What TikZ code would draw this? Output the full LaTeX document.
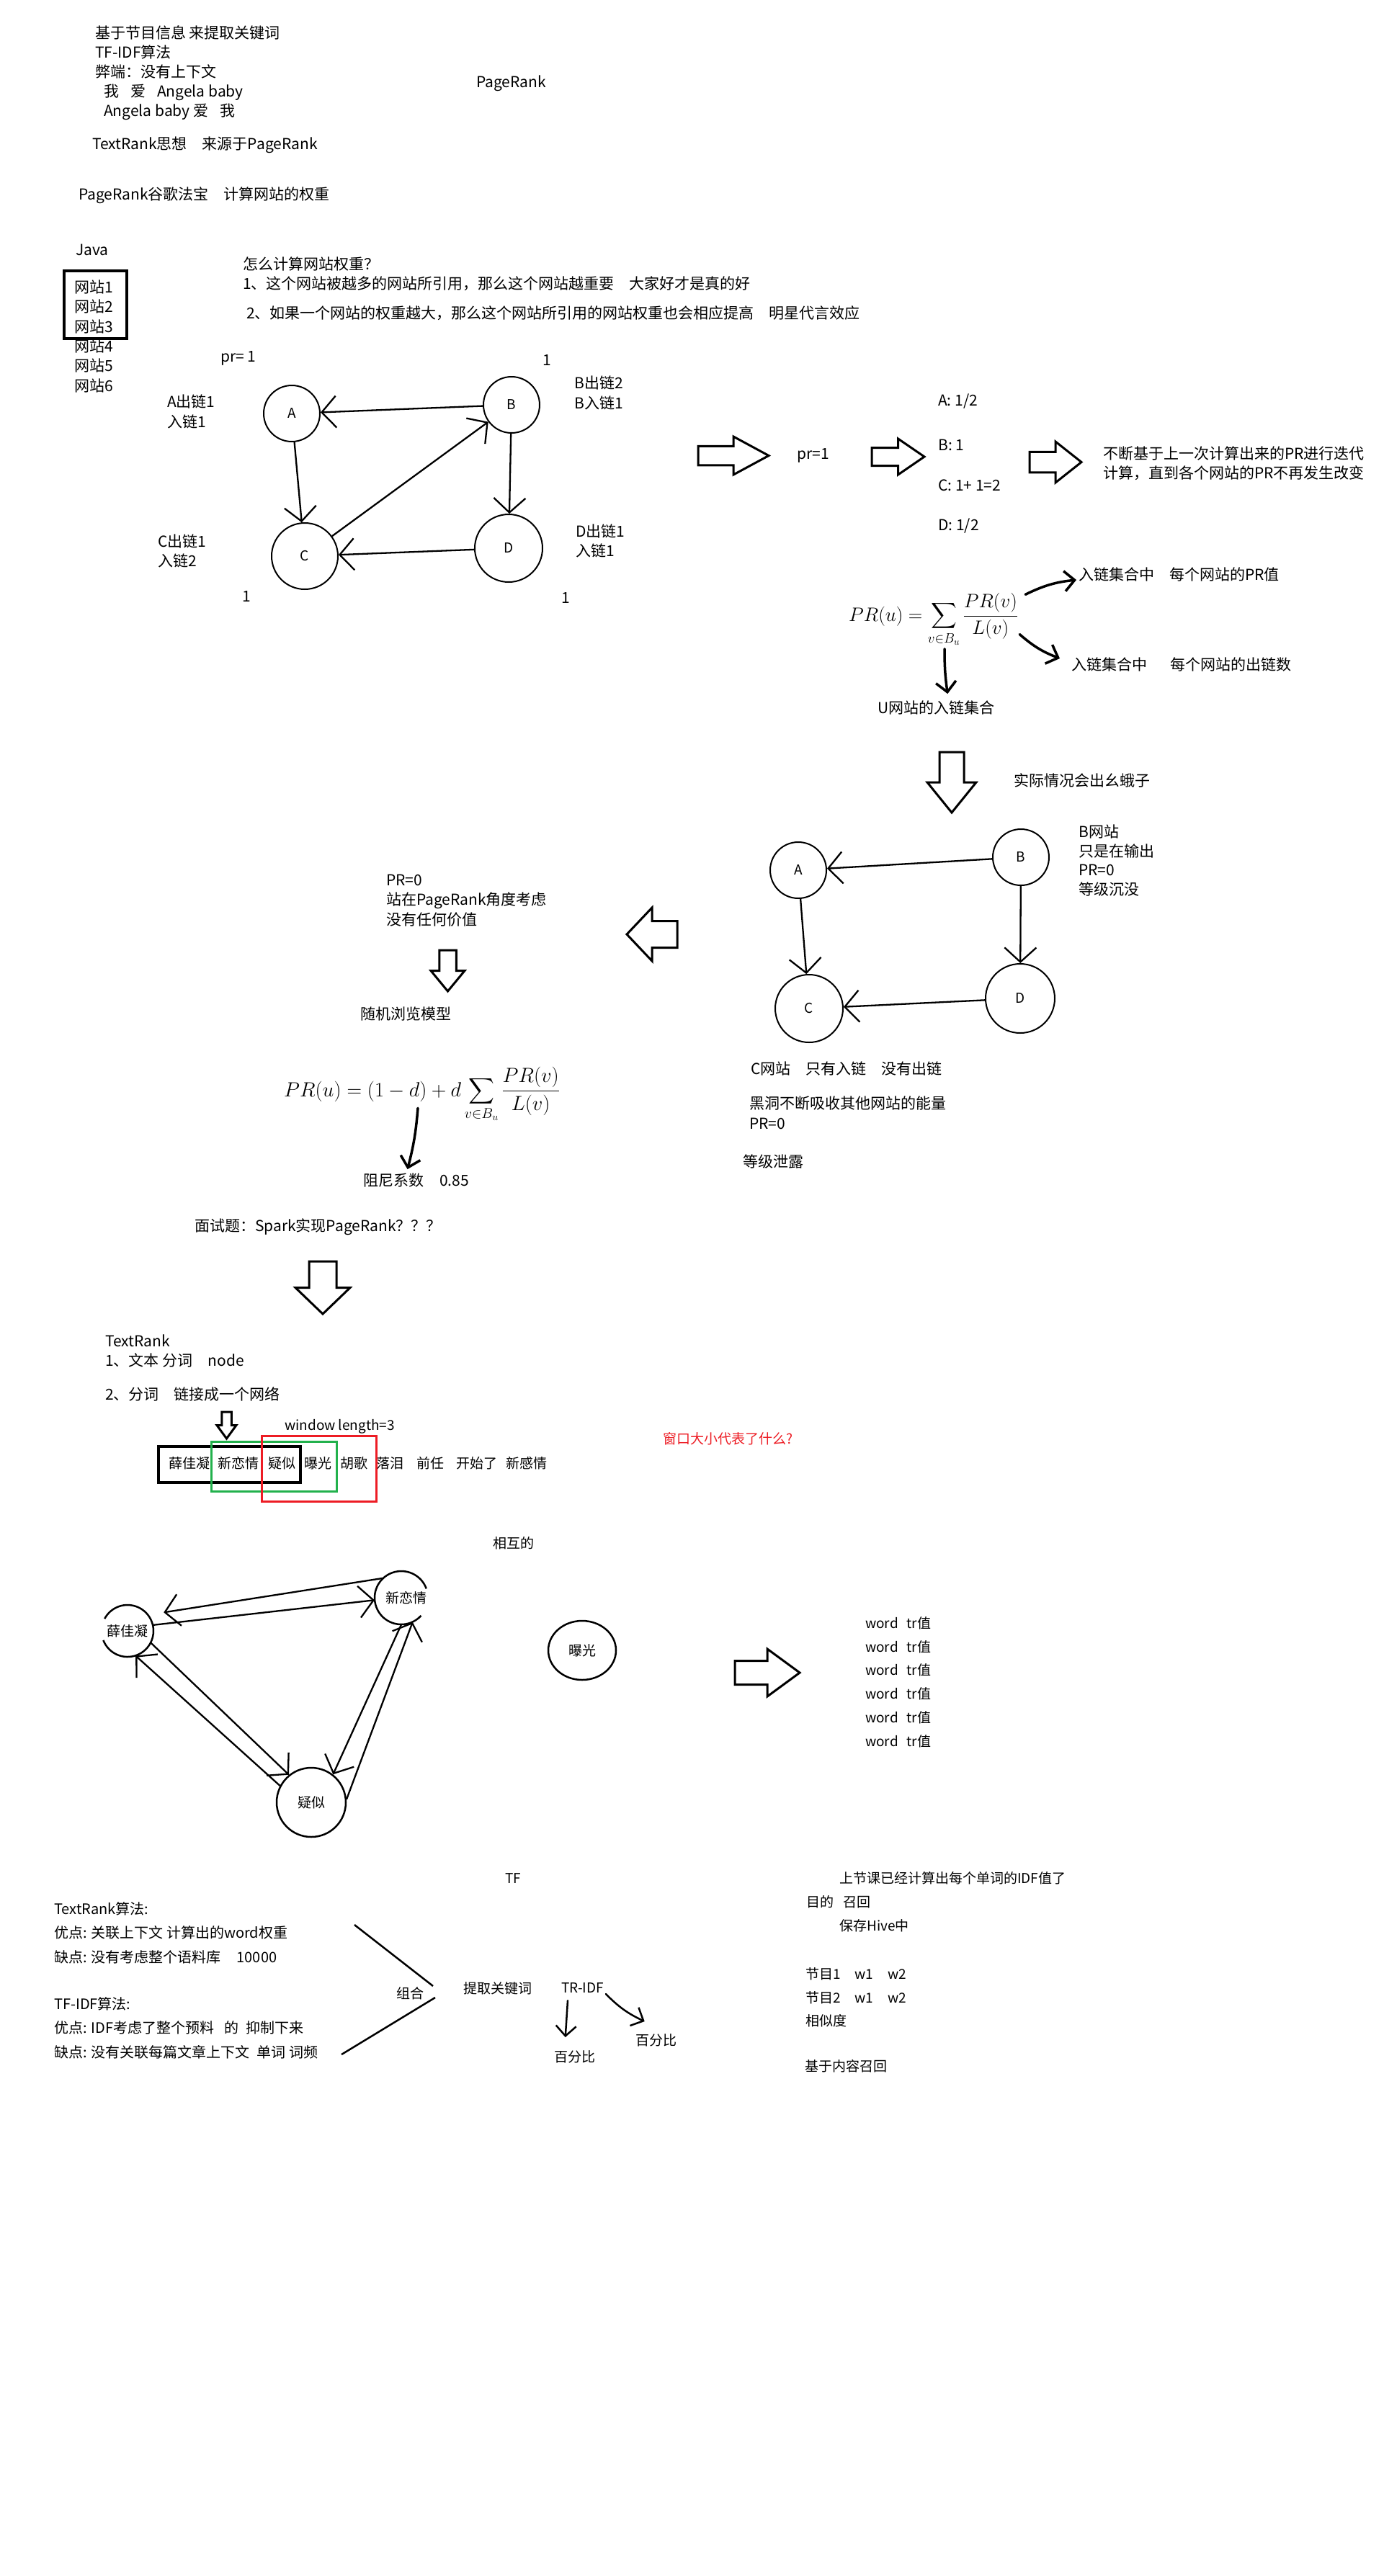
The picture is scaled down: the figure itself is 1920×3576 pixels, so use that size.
\RequirePackage{fix-cm}
\documentclass[tikz,border=0pt]{standalone}
\usepackage{fontspec}
\setmainfont{Noto Sans CJK SC}
\usepackage{amsmath}
\usetikzlibrary{arrows.meta,positioning,calc,shapes.geometric}
\definecolor{PaintRed}{HTML}{ED1C24}
\definecolor{PaintGreen}{HTML}{22B14C}
\tikzset{
  note/.style={font=\fontsize{21}{27}\selectfont,anchor=west,align=left,inner sep=0pt},
  msg/.style={font=\fontsize{19}{33}\selectfont,anchor=west,align=left,inner sep=0pt},
  site/.style={circle,draw,line width=2pt,minimum size=78pt,inner sep=0pt,font=\fontsize{19}{19}\selectfont},
  link/.style={-{Straight Barb[length=20pt,width=44pt]},line width=2.3pt},
  hand/.style={-{Straight Barb[length=14pt,width=28pt]},line width=3.5pt,line cap=round},
  formula/.style={anchor=base west,inner sep=0pt,font=\fontsize{27}{32}\selectfont},
  fat/.pic={\draw[line width=3pt,fill=white] (0,-.25) -- (.5,-.25) -- (.5,-.5) -- (1,0) -- (.5,.5) -- (.5,.25) -- (0,.25) -- cycle;}
}
\begin{document}
\begin{tikzpicture}[x=1pt,y=1pt]
\fill[white] (0,0) rectangle (1920,-3576);
\useasboundingbox (0,0) rectangle (1920,-3576);

% --- notes at the top
\node[note,anchor=north west] (intro) at (132,-35.5) {基于节目信息 来提取关键词\\TF-IDF算法\\弊端：没有上下文\\\hspace{12pt}我\hspace{16pt}爱\hspace{16pt}Angela baby\\\hspace{12pt}Angela baby 爱\hspace{16pt}我};
\node[note] (prTitle) at (661,-116) {PageRank};
\node[note] (trIdea) at (128,-201) {TextRank思想\quad 来源于PageRank};
\node[note] (prBao) at (109,-271) {PageRank谷歌法宝\quad 计算网站的权重};
\node[note] (java) at (105,-347) {Java};
\node[note,anchor=north west,font=\fontsize{21}{27.4}\selectfont] (sites) at (103,-388.5) {网站1\\网站2\\网站3\\网站4\\网站5\\网站6};
\draw[line width=4pt] (89,-376) rectangle (176,-470);
\node[note] (q0) at (337,-367) {怎么计算网站权重？};
\node[note] (q1) at (337,-394) {1、这个网站被越多的网站所引用，那么这个网站越重要\quad 大家好才是真的好};
\node[note] (q2) at (342,-435) {2、如果一个网站的权重越大，那么这个网站所引用的网站权重也会相应提高\quad 明星代言效应};

% --- first link graph
\node[note] (prA) at (306,-497) {pr= 1};
\node[note] (prB) at (753,-500) {1};
\node[note] (prC) at (336,-828) {1};
\node[note] (prD) at (779,-830) {1};
\node[site] (A) at (405,-574) {A};
\node[site] (B) at (710,-562) {B};
\node[site,minimum size=92pt] (C) at (423,-772) {C};
\node[site,minimum size=94pt] (D) at (706,-761) {D};
\draw[link] (B) -- (A);
\draw[link] (A) -- (C);
\draw[link] (C) -- (B);
\draw[link] (B) -- (D);
\draw[link] (D) -- (C);
\node[note,anchor=north west,font=\fontsize{21}{28}\selectfont] (aInfo) at (232,-547.5) {A出链1\\入链1};
\node[note,anchor=north west,font=\fontsize{21}{28}\selectfont] (bInfo) at (797,-521.5) {B出链2\\B入链1};
\node[note,anchor=north west] (cInfo) at (219,-741.5) {C出链1\\入链2};
\node[note,anchor=north west] (dInfo) at (799,-727.5) {D出链1\\入链1};

% --- iteration
\pic[xscale=98,yscale=53] at (969,-632.5) {fat};
\node[note] (prOne) at (1106,-632) {pr=1};
\pic[xscale=73,yscale=50] at (1210,-634) {fat};
\node[note] (itA) at (1302,-557) {A: 1/2};
\node[note] (itB) at (1302,-618) {B: 1};
\node[note] (itC) at (1302,-674) {C: 1+ 1=2};
\node[note] (itD) at (1302,-730) {D: 1/2};
\pic[xscale=72,yscale=57] at (1429,-641.5) {fat};
\node[note,anchor=north west,font=\fontsize{21}{27}\selectfont] (iterate) at (1531,-619.5) {不断基于上一次计算出来的PR进行迭代\\计算，直到各个网站的PR不再发生改变};

% --- simple formula
\node[formula] (fm1) at (1178,-862) {$\displaystyle PR(u)=\sum_{v\in B_u}\frac{PR(v)}{L(v)}$};
\node[note] (inPR) at (1497,-797) {入链集合中\quad 每个网站的PR值};
\node[note] (outL) at (1487,-922) {入链集合中\hspace{32pt}每个网站的出链数};
\node[note] (uSet) at (1218,-982) {U网站的入链集合};
\draw[hand] ([xshift=10pt,yshift=-2pt]fm1.north east) to[bend left=10] ([xshift=-3pt,yshift=-8pt]inPR.west);
\draw[hand] ([shift={(2pt,-20pt)}]fm1.east) to[bend right=10] ([xshift=-16pt,yshift=8pt]outL.west);
\draw[hand] ([xshift=133pt,yshift=-3pt]fm1.south west) to[bend right=4] ([xshift=16pt,yshift=9pt]uSet.north);

% --- what goes wrong
\pic[rotate=-90,xscale=84,yscale=68] at (1321,-1044) {fat};
\node[note] (trouble) at (1407,-1083) {实际情况会出幺蛾子};
\node[site] (sA) at (1108,-1208) {A};
\node[site] (sB) at (1417,-1190) {B};
\node[site,minimum size=94pt] (sC) at (1123,-1400) {C};
\node[site,minimum size=96pt] (sD) at (1416,-1386) {D};
\draw[link] (sB) -- (sA);
\draw[link] (sA) -- (sC);
\draw[link] (sB) -- (sD);
\draw[link] (sD) -- (sC);
\node[note,anchor=north west,font=\fontsize{21}{26.7}\selectfont] (sink) at (1497,-1144.5) {B网站\\只是在输出\\PR=0\\等级沉没};
\node[note] (cOnly) at (1042,-1484) {C网站\quad 只有入链\quad 没有出链};
\node[note,anchor=north west,font=\fontsize{21}{28}\selectfont] (hole) at (1040,-1521.5) {黑洞不断吸收其他网站的能量\\PR=0};
\node[note] (leak) at (1031,-1612) {等级泄露};

% --- random surfer
\pic[rotate=180,xscale=70,yscale=74] at (940,-1297) {fat};
\node[note,anchor=north west,font=\fontsize{21}{27.5}\selectfont] (zero) at (536,-1213.5) {PR=0\\站在PageRank角度考虑\\没有任何价值};
\pic[rotate=-90,xscale=57,yscale=47] at (621.5,-1319) {fat};
\node[note] (surf) at (500,-1408) {随机浏览模型};
\node[formula,font=\fontsize{28.5}{34}\selectfont] (fm2) at (394,-1522) {$\displaystyle PR(u)=(1-d)+d\sum_{v\in B_u}\frac{PR(v)}{L(v)}$};
\node[note] (damp) at (504,-1639) {阻尼系数\hspace{22pt}0.85};
\draw[hand] ([shift={(186pt,20pt)}]fm2.south west) to[bend left=5] ([xshift=-12pt,yshift=6pt]damp.north);
\node[note] (ask) at (270,-1703) {面试题：Spark实现PageRank？？？};
\pic[rotate=-90,xscale=73,yscale=76] at (448,-1751) {fat};

% --- TextRank
\node[note,anchor=north west,font=\fontsize{21}{27}\selectfont] (tr) at (146,-1852.5) {TextRank\\1、文本 分词\quad node};
\node[note] (tr2) at (146,-1935) {2、分词\quad 链接成一个网络};
\pic[rotate=-90,xscale=37,yscale=27] at (314.5,-1960) {fat};
\node[msg] (win) at (395,-1980) {window length=3};
\node[msg,text=PaintRed] (why) at (920,-1997) {窗口大小代表了什么?};
\node[msg] (w1) at (234,-2031) {薛佳凝};
\node[msg] (w2) at (302,-2031) {新恋情};
\node[msg] (w3) at (372,-2031) {疑似};
\node[msg] (w4) at (422,-2031) {曝光};
\node[msg] (w5) at (472,-2031) {胡歌};
\node[msg] (w6) at (522,-2031) {落泪};
\node[msg] (w7) at (578,-2031) {前任};
\node[msg] (w8) at (633,-2031) {开始了};
\node[msg] (w9) at (702,-2031) {新感情};
\draw[line width=4pt] (220,-2008) rectangle (417,-2058);
\draw[line width=3pt,PaintGreen] (293,-2001) rectangle (467,-2070);
\draw[line width=3pt,PaintRed] (363,-1993) rectangle (522,-2084);

% --- word graph
\node[msg] (mutual) at (684,-2142) {相互的};
\node[circle,minimum size=72pt,inner sep=0pt,font=\fontsize{19}{19}\selectfont] (xue) at (177,-2264) {薛佳凝};
\node[circle,minimum size=74pt,inner sep=0pt,font=\fontsize{19}{19}\selectfont] (xin) at (557,-2218) {\hspace*{14pt}新恋情};
\draw[line width=2.5pt] ([shift={(201:36pt)}]xue.center) arc[start angle=201,end angle=512,radius=36pt];
\draw[line width=2.5pt] ([shift={(20:37pt)}]xin.center) arc[start angle=20,end angle=318,radius=37pt];
\node[site,line width=2.5pt,minimum size=96pt] (yi) at (432,-2502) {疑似};
\node[site,ellipse,line width=2.5pt,minimum width=94pt,minimum height=82pt] (bao) at (808,-2291) {曝光};
\draw[link,shorten >=22pt] (xin.133) -- (xue.38);
\draw[link] (xue.13) -- (xin.185);
\draw[link] (xue.-27) -- (yi.129);
\draw[link] (yi.152) -- (xue.-72);
\draw[link] (xin.-90) -- (yi.52);
\draw[link] (yi.5) -- (xin.-65);
\pic[xscale=90,yscale=66] at (1020,-2322) {fat};
\foreach \i in {0,...,5}
  \node[msg] (tr\i) at (1201,-2253-32.8*\i) {word\hspace{12pt}tr值};

% --- comparison
\node[msg] (tf) at (701,-2608) {TF};
\node[msg,anchor=north west,font=\fontsize{20}{33.5}\selectfont] (trAlg) at (75,-2640) {TextRank算法:\\优点: 关联上下文 计算出的word权重\\缺点: 没有考虑整个语料库\hspace{22pt}10000};
\node[msg,anchor=north west,font=\fontsize{20}{33.5}\selectfont] (tfAlg) at (75,-2772) {TF-IDF算法:\\优点: IDF考虑了整个预料\hspace{14pt}的\hspace{10pt}抑制下来\\缺点: 没有关联每篇文章上下文\hspace{10pt}单词 词频};
\draw[line width=2.5pt] (492,-2672) -- (601,-2757);
\draw[line width=2.5pt] (604,-2773) -- (474,-2852);
\node[msg] (mix) at (550,-2767) {组合};
\node[msg] (extract) at (643,-2760) {提取关键词};
\node[msg] (tridf) at (779,-2760) {TR-IDF};
\node[msg] (pct1) at (769,-2855) {百分比};
\node[msg] (pct2) at (882,-2832) {百分比};
\draw[hand,line width=2.5pt] ([shift={(9pt,-10pt)}]tridf.south west) -- ([shift={(-13pt,18pt)}]pct1.north);
\draw[hand,line width=2.5pt] ([shift={(3pt,-8pt)}]tridf.east) to[bend right=10] ([shift={(-16pt,17pt)}]pct2.north);

% --- recall notes
\node[msg] (idf) at (1165,-2607) {上节课已经计算出每个单词的IDF值了};
\node[msg] (aim) at (1119,-2640) {目的\hspace{13pt}召回};
\node[msg] (hive) at (1165,-2673) {保存Hive中};
\node[msg] (show1) at (1118,-2740) {节目1\hspace{20pt}w1\hspace{20pt}w2};
\node[msg] (show2) at (1118,-2773) {节目2\hspace{20pt}w1\hspace{20pt}w2};
\node[msg] (sim) at (1118,-2805) {相似度};
\node[msg] (content) at (1117,-2868) {基于内容召回};
\end{tikzpicture}
\end{document}
